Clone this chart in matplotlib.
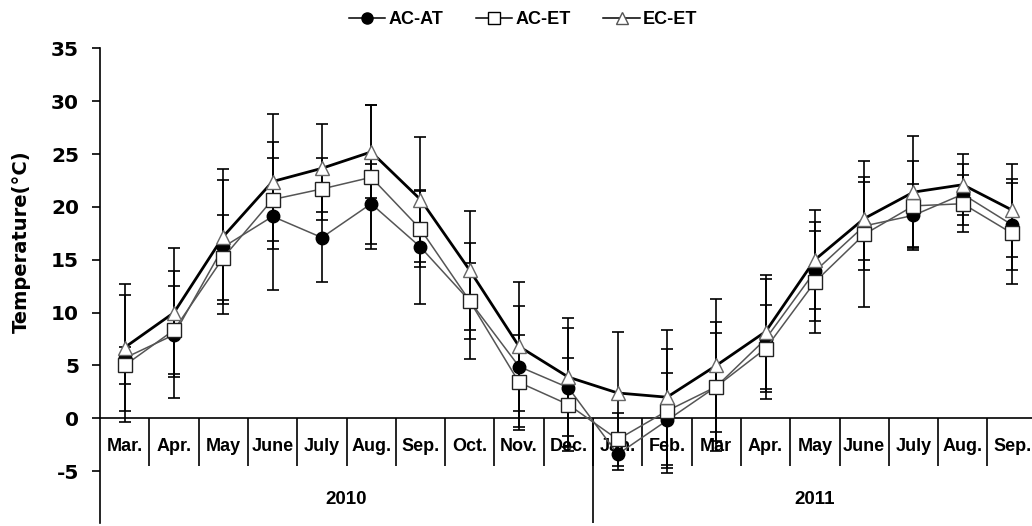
import numpy as np
import matplotlib
matplotlib.use('Agg')
import matplotlib.pyplot as plt
from matplotlib.lines import Line2D

plt.rcParams['axes.unicode_minus'] = False

# 월별 평균기온과 표준편차 (2010.3 ~ 2011.9)
months = ['Mar.', 'Apr.', 'May', 'June', 'July', 'Aug.', 'Sep.', 'Oct.', 'Nov.', 'Dec.',
          'Jan.', 'Feb.', 'Mar', 'Apr.', 'May', 'June', 'July', 'Aug.', 'Sep.']
years = ['2010', '2011']
year_len = [10, 9]

ac_at = [5.7, 7.9, 16.2, 19.1, 17.1, 20.3, 16.2, 11.1, 4.9, 2.9,
         -3.4, -0.2, 3.0, 7.5, 13.9, 18.2, 19.2, 21.2, 18.3]
ac_et = [5.0, 8.35, 15.2, 20.7, 21.7, 22.8, 17.9, 11.1, 3.4, 1.3,
         -2.0, 0.7, 3.0, 6.6, 12.9, 17.4, 20.1, 20.3, 17.5]
ec_et = [6.7, 10.0, 17.2, 22.4, 23.65, 25.2, 20.7, 14.0, 6.8, 3.9,
         2.4, 2.0, 5.0, 8.2, 15.0, 18.9, 21.4, 22.1, 19.7]

ac_at_sd = [6.0, 6.0, 6.3, 7.0, 4.2, 3.8, 5.4, 3.6, 5.7, 5.6,
            1.5, 4.5, 5.1, 5.7, 4.7, 4.2, 3.0, 2.9, 4.3]
ac_et_sd = [1.75, 4.2, 4.0, 3.9, 2.9, 6.8, 3.6, 5.5, 4.5, 4.4,
            2.5, 5.9, 6.1, 4.1, 4.8, 6.9, 4.2, 2.7, 4.8]
ec_et_sd = [6.0, 6.1, 6.4, 6.4, 4.15, 4.4, 5.9, 5.6, 6.1, 5.6,
            5.8, 6.4, 6.3, 5.4, 4.7, 3.9, 5.3, 2.9, 4.4]

n = len(months)
x = np.arange(n) + 0.5

fig = plt.figure(figsize=(10.32, 5.26), dpi=100)
ax = fig.add_axes([0.0969, 0.0057, 0.9077, 0.9024])

# 오차막대
for vals, sd in [(ac_at, ac_at_sd), (ac_et, ac_et_sd), (ec_et, ec_et_sd)]:
    ax.errorbar(x, vals, yerr=sd, fmt='none', ecolor='black', elinewidth=1.2,
                capsize=4, capthick=1.2, zorder=2)

l1, = ax.plot(x, ac_at, color='#555555', lw=1.1, marker='o', ms=9,
              mfc='black', mec='black', zorder=4)
l2, = ax.plot(x, ac_et, color='#555555', lw=1.1, marker='s', ms=10,
              mfc='white', mec='#222222', mew=1.0, zorder=5)
l3, = ax.plot(x, ec_et, color='black', lw=2.0, marker='^', ms=10,
              mfc='white', mec='#666666', mew=1.0, zorder=6)

ax.set_xlim(0, n)
ax.set_ylim(-9.9, 35)
ax.set_yticks(np.arange(-5, 36, 5))
ax.set_xticks([])
for s in ['top', 'right', 'bottom']:
    ax.spines[s].set_visible(False)
ax.spines['left'].set_linewidth(1.2)
ax.tick_params(axis='y', direction='out', length=6, width=1.2, pad=9)
for lab in ax.get_yticklabels():
    lab.set_fontfamily('DejaVu Sans')
    lab.set_fontweight('bold')
    lab.set_fontsize(14.5)

# 0도 기준선과 월 구분선
ax.axhline(0, color='black', lw=1.2, zorder=1)
ax.vlines(np.arange(1, n), -4.5, 0, color='black', lw=1.2, zorder=1)
ax.vlines(year_len[0], -9.9, 0, color='black', lw=1.2, zorder=1)

for xi, m in zip(x, months):
    ax.text(xi, -2.7, m, ha='center', va='center', fontsize=13,
            fontweight='bold', family='Liberation Sans')

start = 0
for y, ln in zip(years, year_len):
    ax.text(start + ln / 2, -7.65, y, ha='center', va='center', fontsize=13.5,
            fontweight='bold', family='Liberation Sans')
    start += ln

fig.text(0.0205, 0.54, 'Temperature(\u00b0C)', rotation=90, ha='center', va='center',
         fontsize=14, fontweight='bold', family='DejaVu Sans')

h1 = Line2D([], [], color='black', lw=1.1, marker='o', ms=8, mfc='black', mec='black')
h2 = Line2D([], [], color='black', lw=1.1, marker='s', ms=8, mfc='white', mec='black')
h3 = Line2D([], [], color='black', lw=1.1, marker='^', ms=8, mfc='white', mec='#555555')
fig.legend([h1, h2, h3], ['AC-AT', 'AC-ET', 'EC-ET'], loc='center', ncol=3,
           bbox_to_anchor=(0.507, 0.963), frameon=False, handlelength=2.0,
           handletextpad=0.2, columnspacing=1.8,
           prop={'family': 'Liberation Sans', 'weight': 'bold', 'size': 13})

fig.savefig('out.png', dpi=100)
